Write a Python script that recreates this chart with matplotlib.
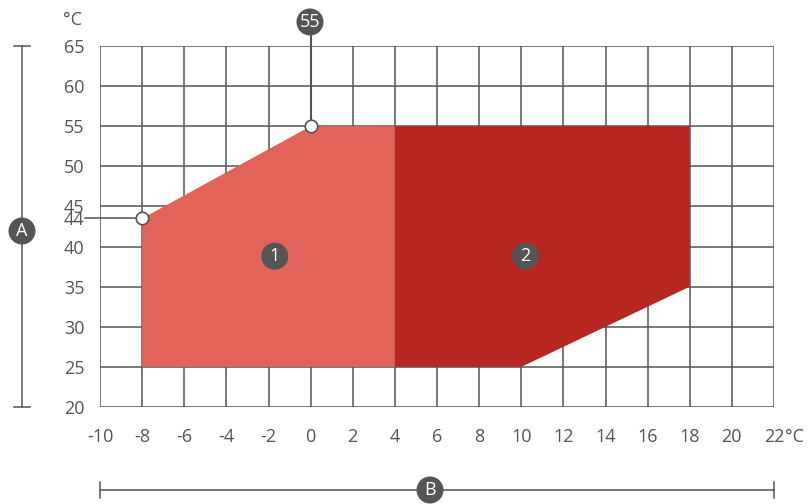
import matplotlib.pyplot as plt
from matplotlib.patches import Polygon, Circle
from matplotlib.transforms import IdentityTransform

plt.rcParams['font.family'] = ['Open Sans', 'DejaVu Sans']
plt.rcParams['axes.unicode_minus'] = False

# zone outlines (x in °C outdoor, y in °C water); the "44" corner sits a bit below 44 in the drawing
zone1_x = [-8, -8, 0, 4, 4]
zone1_y = [25, 43.5, 55, 55, 25]
zone2_x = [4, 4, 18, 18, 10]
zone2_y = [25, 55, 55, 35, 25]
labels = ['1', '2']
label_x = [-1.7, 10.2]
label_y = [38.8, 38.8]
x_ticks = list(range(-10, 23, 2))
y_ticks = [20, 25, 30, 35, 40, 43.5, 45, 50, 55, 60, 65]
y_labels = ['20', '25', '30', '35', '40', '44', '45', '50', '55', '60', '65']

grey = '#555555'
light = '#E2635A'
dark = '#B72620'
fs = 13

W, H = 809, 504
fig = plt.figure(figsize=(W / 100, H / 100), dpi=100)
ax = fig.add_axes([100 / W, 1 - 407 / H, 674 / W, 361 / H])
ax.set_xlim(-10, 22)
ax.set_ylim(20, 65)

# grid
for x in x_ticks:
    ax.plot([x, x], [20, 65], color=grey, lw=1.1, zorder=1)
for y in range(20, 66, 5):
    ax.plot([-10, 22], [y, y], color=grey, lw=1.1, zorder=1)

ax.add_patch(Polygon(list(zip(zone1_x, zone1_y)), closed=True, fc=light, ec='none', zorder=2))
ax.add_patch(Polygon(list(zip(zone2_x, zone2_y)), closed=True, fc=dark, ec='none', zorder=2))

# 44 marker line
ax.plot([-10.7, -8], [43.5, 43.5], color=grey, lw=1.1, zorder=3, clip_on=False)
# 55 marker line
ax.plot([0, 0], [55, 65 + 24 / 8.02], color=grey, lw=1.5, zorder=3, clip_on=False)
ax.plot([-8, 0], [43.5, 55], ls='none', marker='o', ms=9, mfc='white', mec=grey, mew=1.2, zorder=5,
        clip_on=False)

for spine in ax.spines.values():
    spine.set_visible(False)
ax.set_xticks(x_ticks)
ax.set_yticks(y_ticks)
ax.set_yticklabels(y_labels)
ax.tick_params(length=0, labelsize=fs, colors=grey)
ax.tick_params(axis='y', pad=11)
ax.tick_params(axis='x', pad=15)

# zone labels
for lab, lx, ly in zip(labels, label_x, label_y):
    px, py = ax.transData.transform((lx, ly))
    ax.add_patch(Circle((px, py), 13.5, transform=IdentityTransform(), fc=grey, ec='none', zorder=6))
    ax.text(lx, ly, lab, ha='center', va='center', color='white', fontsize=fs, zorder=7)

# unit labels
fig.text(72 / W, 1 - 20 / H, '°C', ha='center', va='center', color=grey, fontsize=fs)
ax.annotate('°C', xy=(22, 20), xytext=(8, -15), textcoords='offset points', ha='left', va='top',
            color=grey, fontsize=fs, annotation_clip=False)

# dimension lines
dim = dict(color=grey, lw=1.1)
fig.add_artist(plt.Line2D([22 / W, 22 / W], [1 - 46 / H, 1 - 407 / H], **dim))
fig.add_artist(plt.Line2D([14 / W, 30 / W], [1 - 46 / H, 1 - 46 / H], **dim))
fig.add_artist(plt.Line2D([14 / W, 30 / W], [1 - 407 / H, 1 - 407 / H], **dim))
fig.add_artist(plt.Line2D([100 / W, 774 / W], [1 - 490 / H, 1 - 490 / H], **dim))
fig.add_artist(plt.Line2D([100 / W, 100 / W], [1 - 482 / H, 1 - 498 / H], **dim))
fig.add_artist(plt.Line2D([774 / W, 774 / W], [1 - 482 / H, 1 - 498 / H], **dim))

for px, py, txt in [(310, 22, '55'), (22, 231, 'A'), (430, 490, 'B')]:
    fig.add_artist(Circle((px, H - py), 13.5, transform=IdentityTransform(),
                          fc=grey, ec='none', zorder=6))
    fig.text(px / W, 1 - py / H, txt, ha='center', va='center', color='white', fontsize=fs,
             zorder=7)

fig.savefig('out.png', dpi=100)
